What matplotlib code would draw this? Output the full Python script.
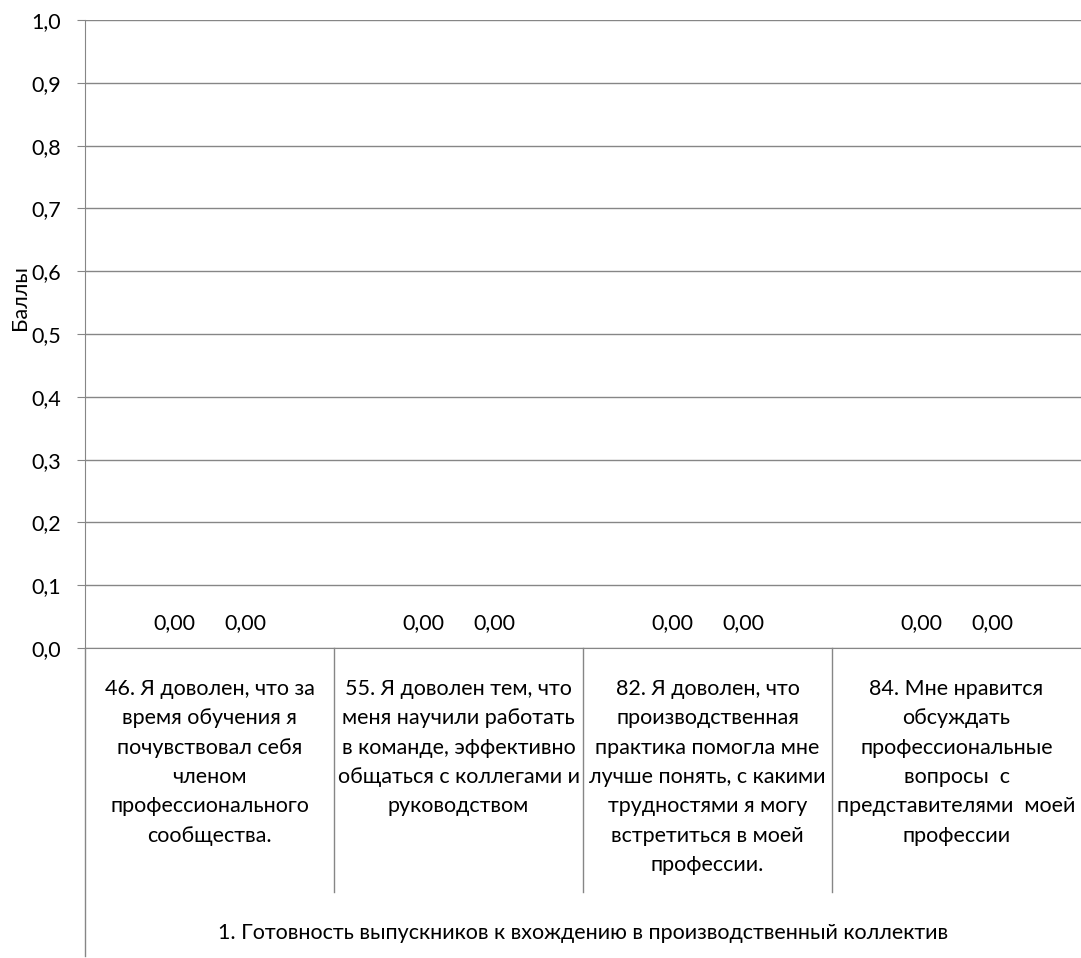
import numpy as np
import matplotlib.pyplot as plt
from matplotlib.ticker import FuncFormatter
from matplotlib.transforms import blended_transform_factory

plt.rcParams['font.family'] = ['Lato', 'DejaVu Sans']

categories = [
    "46. Я доволен, что за\nвремя обучения я\nпочувствовал себя\nчленом\nпрофессионального\nсообщества.",
    "55. Я доволен тем, что\nменя научили работать\nв команде, эффективно\nобщаться с коллегами и\nруководством",
    "82. Я доволен, что\nпроизводственная\nпрактика помогла мне\nлучше понять, с какими\nтрудностями я могу\nвстретиться в моей\nпрофессии.",
    "84. Мне нравится\nобсуждать\nпрофессиональные\nвопросы  с\nпредставителями  моей\nпрофессии",
]
group_label = "1. Готовность выпускников к вхождению в производственный коллектив"
series_a = [0.0, 0.0, 0.0, 0.0]
series_b = [0.0, 0.0, 0.0, 0.0]

W, H = 1081, 958
grey = "#868686"
fs = 15.5
fig = plt.figure(figsize=(W / 100, H / 100), dpi=100)
ax = fig.add_axes([85 / W, 1 - 648 / H, 996 / W, 628 / H])

x = np.arange(len(categories))
w = 1 / 3.5  # gap width 150%
bars_a = ax.bar(x - w / 2, series_a, w, color="#4F81BD")
bars_b = ax.bar(x + w / 2, series_b, w, color="#C0504D")
for bars in (bars_a, bars_b):
    for b in bars:
        ax.annotate(f"{b.get_height():.2f}".replace(".", ","),
                    (b.get_x() + b.get_width() / 2, b.get_height()),
                    xytext=(0, 18), textcoords="offset points",
                    ha="center", va="center", fontsize=fs)

ax.set_xlim(-0.5, len(categories) - 0.5)
ax.set_ylim(0, 1.0)
ax.set_yticks(np.arange(0, 1.01, 0.1))
ax.yaxis.set_major_formatter(FuncFormatter(lambda v, p: f"{v:.1f}".replace(".", ",")))
ax.tick_params(axis="y", labelsize=fs, length=6, color=grey, pad=11)
ax.set_xticks([])
ax.grid(axis="y", color=grey, linewidth=1)
ax.set_axisbelow(True)
for s in ("top", "right"):
    ax.spines[s].set_visible(False)
ax.spines["left"].set_color(grey)
ax.spines["bottom"].set_color(grey)

# x in data units, y in figure pixels from the top
tr = blended_transform_factory(ax.transData, fig.transFigure)
def fy(py):
    return 1 - py / H

ax.plot([-0.5, -0.5], [fy(648), fy(956)], transform=tr, color=grey, lw=1, clip_on=False)
for i in range(1, len(categories)):
    ax.plot([i - 0.5, i - 0.5], [fy(648), fy(892)], transform=tr, color=grey, lw=1,
            clip_on=False)
for i, c in enumerate(categories):
    for k, line in enumerate(c.split("\n")):
        ax.text(i, fy(689 + 29.3 * k), line, transform=tr, ha="center", va="center",
                fontsize=fs)
ax.text(np.mean(x), fy(933), group_label, transform=tr, ha="center", va="center",
        fontsize=fs)

fig.text(20 / W, fy(298), "Баллы", rotation=90, ha="center", va="center", fontsize=fs)

fig.savefig("out.png", dpi=100)
